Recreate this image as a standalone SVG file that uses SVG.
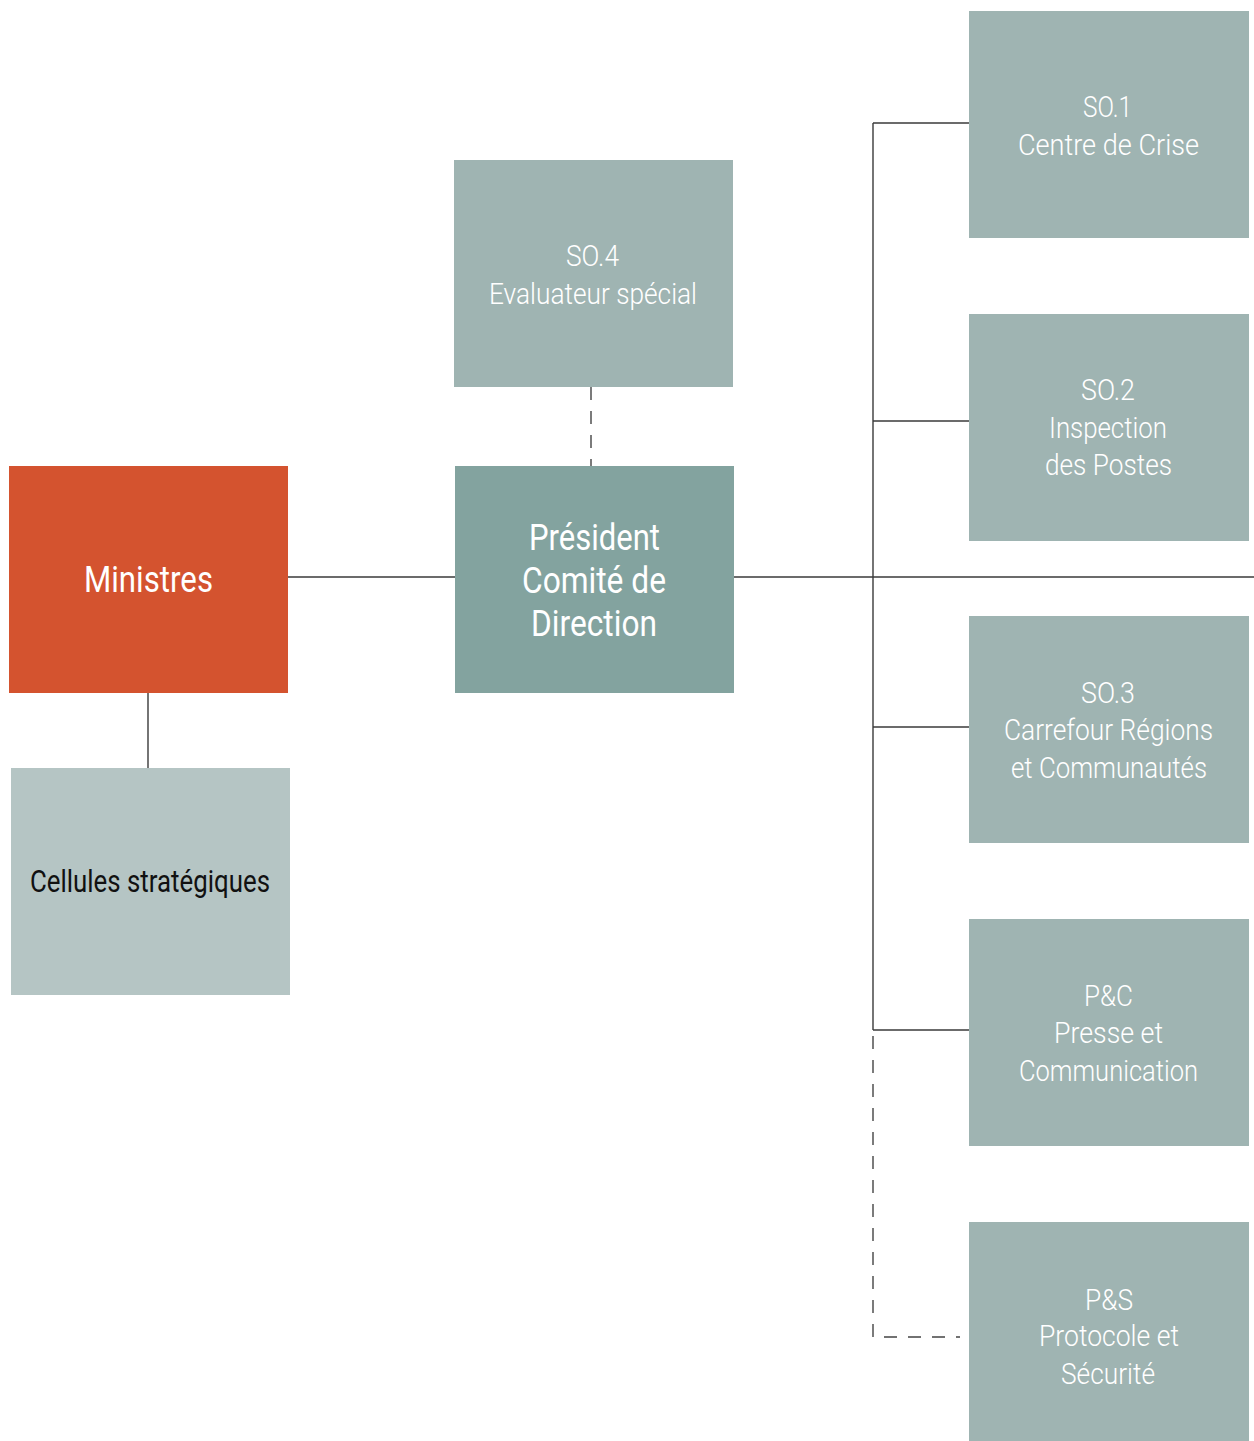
<svg xmlns="http://www.w3.org/2000/svg" width="1254" height="1441" viewBox="0 0 1254 1441">
<style>
.box{fill:#9FB4B2}
.pres{fill:#83A39F}
.min{fill:#D4532F}
.cell{fill:#B5C5C4}
text{font-family:Roboto,"Liberation Sans",sans-serif;text-anchor:middle}
.lt{font-size:30px;font-weight:300;fill:#ffffff}
.big{font-size:36px;font-weight:400;fill:#ffffff}
.dk{font-size:31px;font-weight:400;fill:#111111}
.ln{fill:none;stroke:#3a3a3a;stroke-width:1.4}
.dash{fill:none;stroke:#444444;stroke-width:1.4;stroke-dasharray:13 11}
</style>
<rect width="1254" height="1441" fill="#ffffff"/>
<g id="connectors">
<line class="ln" x1="288" y1="577" x2="455" y2="577"/>
<line class="ln" x1="148" y1="693" x2="148" y2="768"/>
<line class="dash" x1="591" y1="387" x2="591" y2="466"/>
<line class="ln" x1="734" y1="577" x2="1254" y2="577"/>
<line class="ln" x1="873" y1="123" x2="873" y2="1030"/>
<line class="ln" x1="873" y1="123" x2="969" y2="123"/>
<line class="ln" x1="873" y1="421" x2="969" y2="421"/>
<line class="ln" x1="873" y1="727" x2="969" y2="727"/>
<line class="ln" x1="873" y1="1030" x2="969" y2="1030"/>
<path class="dash" d="M873 1036 V1337 H960"/>
</g>
<g id="ministres">
<rect class="min" x="9" y="466" width="279" height="227"/>
<text class="big" x="148.5" y="592" textLength="129" lengthAdjust="spacingAndGlyphs">Ministres</text>
</g>
<g id="cellules">
<rect class="cell" x="11" y="768" width="279" height="227"/>
<text class="dk" x="150" y="892" textLength="240" lengthAdjust="spacingAndGlyphs">Cellules stratégiques</text>
</g>
<g id="president">
<rect class="pres" x="455" y="466" width="279" height="227"/>
<text class="big" x="594.5" y="550" textLength="131" lengthAdjust="spacingAndGlyphs">Président</text>
<text class="big" x="594" y="593" textLength="144" lengthAdjust="spacingAndGlyphs">Comité de</text>
<text class="big" x="594" y="636" textLength="126" lengthAdjust="spacingAndGlyphs">Direction</text>
</g>
<g id="so4">
<rect class="box" x="454" y="160" width="279" height="227"/>
<text class="lt" x="592.5" y="266" textLength="53" lengthAdjust="spacingAndGlyphs">SO.4</text>
<text class="lt" x="593" y="304" textLength="208" lengthAdjust="spacingAndGlyphs">Evaluateur spécial</text>
</g>
<g id="so1">
<rect class="box" x="969" y="11" width="280" height="227"/>
<text class="lt" x="1107.5" y="117" textLength="49" lengthAdjust="spacingAndGlyphs">SO.1</text>
<text class="lt" x="1108.5" y="155" textLength="181" lengthAdjust="spacingAndGlyphs">Centre de Crise</text>
</g>
<g id="so2">
<rect class="box" x="969" y="314" width="280" height="227"/>
<text class="lt" x="1108" y="400" textLength="54" lengthAdjust="spacingAndGlyphs">SO.2</text>
<text class="lt" x="1108" y="438" textLength="118" lengthAdjust="spacingAndGlyphs">Inspection</text>
<text class="lt" x="1108.5" y="475" textLength="127" lengthAdjust="spacingAndGlyphs">des Postes</text>
</g>
<g id="so3">
<rect class="box" x="969" y="616" width="280" height="227"/>
<text class="lt" x="1108" y="703" textLength="54" lengthAdjust="spacingAndGlyphs">SO.3</text>
<text class="lt" x="1108.5" y="740" textLength="209" lengthAdjust="spacingAndGlyphs">Carrefour Régions</text>
<text class="lt" x="1109" y="778" textLength="196" lengthAdjust="spacingAndGlyphs">et Communautés</text>
</g>
<g id="pc">
<rect class="box" x="969" y="919" width="280" height="227"/>
<text class="lt" x="1108.5" y="1006" textLength="49" lengthAdjust="spacingAndGlyphs">P&amp;C</text>
<text class="lt" x="1108.5" y="1043" textLength="109" lengthAdjust="spacingAndGlyphs">Presse et</text>
<text class="lt" x="1108.5" y="1081" textLength="179" lengthAdjust="spacingAndGlyphs">Communication</text>
</g>
<g id="ps">
<rect class="box" x="969" y="1222" width="280" height="227"/>
<text class="lt" x="1109" y="1310" textLength="48" lengthAdjust="spacingAndGlyphs">P&amp;S</text>
<text class="lt" x="1109" y="1346" textLength="140" lengthAdjust="spacingAndGlyphs">Protocole et</text>
<text class="lt" x="1108" y="1384" textLength="94" lengthAdjust="spacingAndGlyphs">Sécurité</text>
</g>
</svg>
